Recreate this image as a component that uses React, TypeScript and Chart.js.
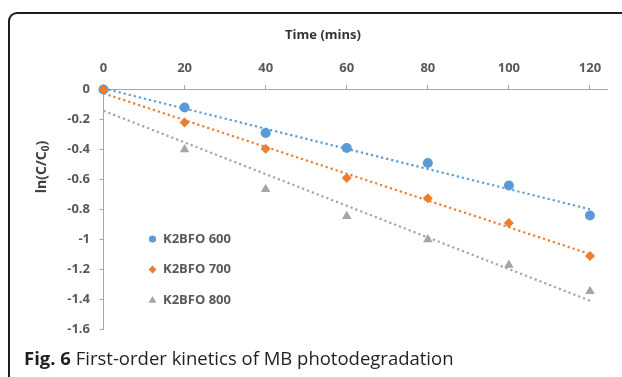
import React, { useEffect, useRef } from 'react';
import { Chart, registerables } from 'chart.js';

Chart.register(...registerables);

// ---- data ----
const timeMins = [0, 20, 40, 60, 80, 100, 120];
const k2bfo600 = [0, -0.12, -0.29, -0.39, -0.49, -0.64, -0.84];
const k2bfo700 = [0, -0.22, -0.395, -0.59, -0.725, -0.89, -1.11];
const k2bfo800 = [0, -0.4, -0.665, -0.845, -1.0, -1.17, -1.345];
const seriesLabels = ['K2BFO 600', 'K2BFO 700', 'K2BFO 800'];
const xTickValues = [0, 20, 40, 60, 80, 100, 120];
const yTickValues = [0, -0.2, -0.4, -0.6, -0.8, -1, -1.2, -1.4, -1.6];
const xTitle = 'Time (mins)';
const yTitleMain = 'ln(C/C';
const yTitleSub = '0';
const yTitleEnd = ')';
const captionBold = 'Fig. 6';
const captionText = ' First-order kinetics of MB photodegradation';

const colors = ['#5B9BD5', '#ED7D31', '#A5A5A5'];
const pointStyles = ['circle', 'rectRot', 'triangle'];
const pointRadii = [5, 5, 5.5];

function fitLine(xs: number[], ys: number[]) {
  const n = xs.length;
  const mx = xs.reduce((a, b) => a + b, 0) / n;
  const my = ys.reduce((a, b) => a + b, 0) / n;
  let sxy = 0;
  let sxx = 0;
  for (let i = 0; i < n; i++) {
    sxy += (xs[i] - mx) * (ys[i] - my);
    sxx += (xs[i] - mx) * (xs[i] - mx);
  }
  const slope = sxy / sxx;
  const icpt = my - slope * mx;
  const x0 = xs[0];
  const x1 = xs[n - 1];
  return [
    { x: x0, y: icpt + slope * x0 },
    { x: x1, y: icpt + slope * x1 },
  ];
}

const FONT = '"Open Sans", "DejaVu Sans", sans-serif';

function drawMarker(ctx: CanvasRenderingContext2D, style: string, x: number, y: number, r: number) {
  ctx.beginPath();
  if (style === 'circle') {
    ctx.arc(x, y, r, 0, Math.PI * 2);
  } else if (style === 'rectRot') {
    ctx.moveTo(x, y - r);
    ctx.lineTo(x + r, y);
    ctx.lineTo(x, y + r);
    ctx.lineTo(x - r, y);
    ctx.closePath();
  } else {
    const h = r * 1.5;
    const w = r * Math.sqrt(3);
    ctx.moveTo(x, y - r);
    ctx.lineTo(x + w / 2, y - r + h);
    ctx.lineTo(x - w / 2, y - r + h);
    ctx.closePath();
  }
  ctx.fill();
}

const overlayPlugin = {
  id: 'overlayPlugin',
  afterDraw(chart: any) {
    const { ctx, chartArea } = chart;
    ctx.save();
    // x axis title
    ctx.font = 'bold 13px ' + FONT;
    ctx.fillStyle = '#333333';
    ctx.textAlign = 'center';
    ctx.textBaseline = 'middle';
    ctx.fillText(xTitle, chartArea.left + 219.5, chartArea.top - 54.5);

    // y axis title (rotated, with subscript)
    ctx.save();
    ctx.translate(chartArea.left - 61, chartArea.top + 77.5);
    ctx.rotate(-Math.PI / 2);
    ctx.fillStyle = '#404040';
    ctx.textAlign = 'left';
    ctx.textBaseline = 'middle';
    const mainFont = 'bold 14px ' + FONT;
    const subFont = 'bold 10px ' + FONT;
    ctx.font = mainFont;
    const w1 = ctx.measureText(yTitleMain).width;
    const w3 = ctx.measureText(yTitleEnd).width;
    ctx.font = subFont;
    const w2 = ctx.measureText(yTitleSub).width;
    const total = w1 + w2 + w3;
    let cx = -total / 2;
    ctx.font = mainFont;
    ctx.fillText(yTitleMain, cx, 0);
    cx += w1;
    ctx.font = subFont;
    ctx.fillText(yTitleSub, cx, 3.5);
    cx += w2;
    ctx.font = mainFont;
    ctx.fillText(yTitleEnd, cx, 0);
    ctx.restore();

    // legend
    ctx.font = 'bold 13px ' + FONT;
    ctx.textAlign = 'left';
    ctx.textBaseline = 'middle';
    const legendR = [3.6, 4, 4.5];
    for (let i = 0; i < seriesLabels.length; i++) {
      const ly = chartArea.top + 149.5 + i * 30.5;
      const lx = chartArea.left + 49;
      ctx.fillStyle = colors[i];
      drawMarker(ctx, pointStyles[i], lx, ly + (i === 2 ? 0.5 : 0), legendR[i]);
      ctx.fillStyle = '#595959';
      ctx.fillText(seriesLabels[i], chartArea.left + 59.5, ly);
    }
    ctx.restore();
  },
};

export default function App() {
  const canvasRef = useRef<HTMLCanvasElement | null>(null);

  useEffect(() => {
    const canvas = canvasRef.current;
    if (!canvas) return;
    const seriesValues = [k2bfo600, k2bfo700, k2bfo800];

    const markerSets = seriesValues.map((vals, i) => ({
      type: 'scatter' as const,
      label: seriesLabels[i],
      data: timeMins.map((t, j) => ({ x: t, y: vals[j] })),
      showLine: false,
      pointStyle: pointStyles[i],
      pointRadius: pointRadii[i],
      pointHoverRadius: pointRadii[i],
      backgroundColor: colors[i],
      borderColor: colors[i],
      pointBorderWidth: 0,
      clip: false,
      order: i === 0 ? 1 : i === 1 ? 0 : 2,
    }));

    const trendSets = seriesValues.map((vals, i) => ({
      type: 'scatter' as const,
      label: seriesLabels[i] + ' trend',
      data: fitLine(timeMins, vals),
      showLine: true,
      pointRadius: 0,
      borderColor: colors[i],
      borderWidth: 2.2,
      borderDash: [2.2, 3],
      fill: false,
      clip: false,
      order: 3,
    }));

    const chart = new Chart(canvas, {
      type: 'scatter',
      data: { datasets: [...trendSets, ...markerSets] as any },
      options: {
        animation: false,
        responsive: false,
        devicePixelRatio: 1,
        layout: { padding: { left: 0, top: 0, right: 15, bottom: 47.5 } },
        plugins: {
          legend: { display: false },
          tooltip: { enabled: false },
          title: { display: false },
        },
        scales: {
          x: {
            type: 'linear',
            position: 'top',
            min: 0,
            max: 124.2,
            afterBuildTicks: (s: any) => {
              s.ticks = xTickValues.map((v) => ({ value: v }));
            },
            afterFit: (s: any) => {
              s.height = 89.5;
            },
            grid: {
              drawOnChartArea: false,
              drawTicks: true,
              tickLength: 4.5,
              color: '#A6A6A6',
              lineWidth: 1,
            },
            border: { display: true, color: '#A6A6A6', width: 1 },
            ticks: {
              padding: 8.5,
              color: '#595959',
              font: { family: FONT, size: 13, weight: 'bold', lineHeight: 1.2 },
              maxRotation: 0,
              autoSkip: false,
              callback: (v: any) => String(v),
            },
          },
          y: {
            type: 'linear',
            position: 'left',
            min: -1.6,
            max: 0,
            afterBuildTicks: (s: any) => {
              s.ticks = yTickValues.map((v) => ({ value: v }));
            },
            afterFit: (s: any) => {
              s.width = 103.5;
            },
            grid: {
              drawOnChartArea: false,
              drawTicks: true,
              tickLength: 4,
              color: '#A6A6A6',
              lineWidth: 1,
            },
            border: { display: true, color: '#A6A6A6', width: 1 },
            ticks: {
              padding: 9.5,
              color: '#595959',
              font: { family: FONT, size: 13, weight: 'bold', lineHeight: 1.2 },
              autoSkip: false,
              callback: (v: any) => String(Math.round(Number(v) * 10) / 10),
            },
          },
        },
      } as any,
      plugins: [overlayPlugin],
    });

    return () => {
      chart.destroy();
    };
  }, []);

  return (
    <div style={{ position: 'absolute', left: 0, top: 0, width: 622, height: 377, overflow: 'hidden', background: '#ffffff' }}>
      <canvas ref={canvasRef} width={622} height={377} style={{ position: 'absolute', left: 0, top: 0, width: 622, height: 377 }} />
      <div
        style={{
          position: 'absolute',
          left: 8,
          top: 12,
          width: 700,
          height: 420,
          borderTop: '2px solid #1e1e1e',
          borderLeft: '2px solid #1e1e1e',
          borderTopLeftRadius: 9,
          boxSizing: 'border-box',
          pointerEvents: 'none',
        }}
      />
      <div
        style={{
          position: 'absolute',
          left: 24,
          top: 347.5,
          fontFamily: '"Open Sans", sans-serif',
          fontSize: 18.5,
          lineHeight: '20px',
          color: '#231f20',
          whiteSpace: 'nowrap',
        }}
      >
        <span style={{ fontWeight: 'bold' }}>{captionBold}</span>
        <span>{captionText}</span>
      </div>
    </div>
  );
}
